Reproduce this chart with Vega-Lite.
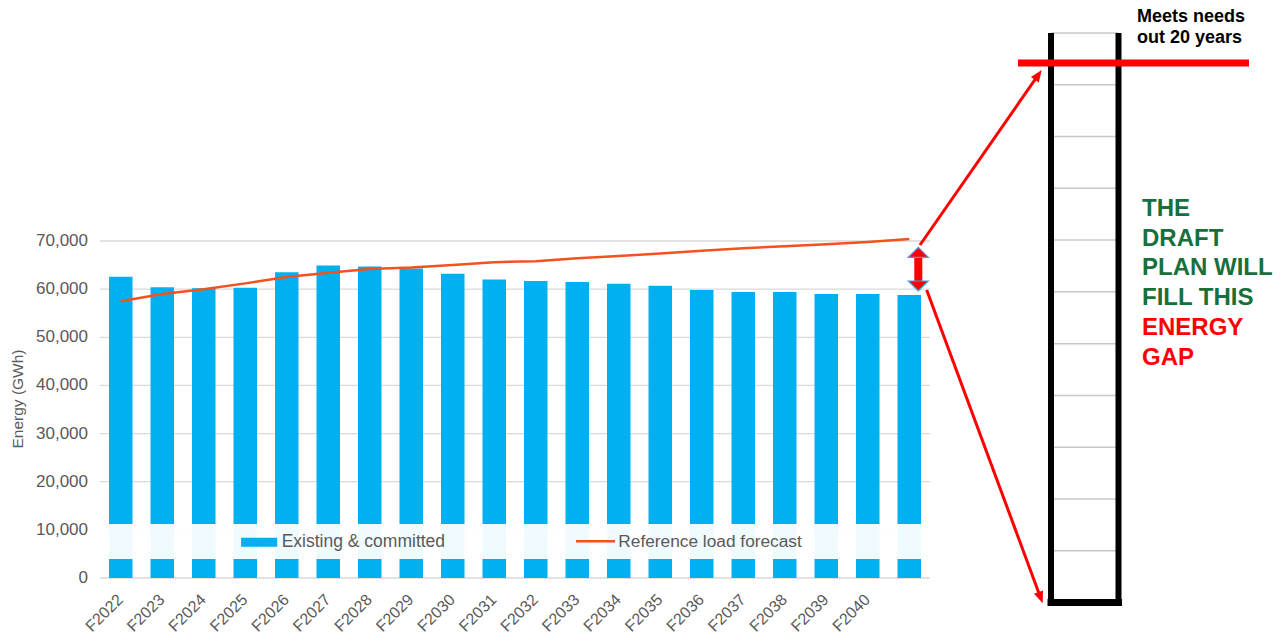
{
  "$schema": "https://vega.github.io/schema/vega-lite/v6.json",
  "autosize": {"type": "none"},
  "padding": {"left": 100, "top": 0, "right": 0, "bottom": 57},
  "width": 1180,
  "height": 578,
  "background": "white",
  "config": {"view": {"stroke": null}, "font": "Liberation Sans"},
  "data": {"values": [{}]},
  "datasets": {
    "energy": [
      {"year": "F2022", "i": 1, "existing": 62600, "forecast": 57500},
      {"year": "F2023", "i": 2, "existing": 60400, "forecast": 59000},
      {"year": "F2024", "i": 3, "existing": 60200, "forecast": 60000},
      {"year": "F2025", "i": 4, "existing": 60300, "forecast": 61200},
      {"year": "F2026", "i": 5, "existing": 63500, "forecast": 62500},
      {"year": "F2027", "i": 6, "existing": 64900, "forecast": 63400},
      {"year": "F2028", "i": 7, "existing": 64700, "forecast": 64200},
      {"year": "F2029", "i": 8, "existing": 64300, "forecast": 64500},
      {"year": "F2030", "i": 9, "existing": 63200, "forecast": 65000},
      {"year": "F2031", "i": 10, "existing": 62000, "forecast": 65600},
      {"year": "F2032", "i": 11, "existing": 61700, "forecast": 65800},
      {"year": "F2033", "i": 12, "existing": 61500, "forecast": 66400},
      {"year": "F2034", "i": 13, "existing": 61100, "forecast": 66900},
      {"year": "F2035", "i": 14, "existing": 60700, "forecast": 67400},
      {"year": "F2036", "i": 15, "existing": 59800, "forecast": 68000},
      {"year": "F2037", "i": 16, "existing": 59400, "forecast": 68500},
      {"year": "F2038", "i": 17, "existing": 59400, "forecast": 68900},
      {"year": "F2039", "i": 18, "existing": 59000, "forecast": 69300},
      {"year": "F2040", "i": 19, "existing": 59000, "forecast": 69800},
      {"year": "F2041", "i": 20, "existing": 58800, "forecast": 70400}
    ],
    "grid": [{"v": 0}, {"v": 10000}, {"v": 20000}, {"v": 30000}, {"v": 40000}, {"v": 50000}, {"v": 60000}, {"v": 70000}],
    "ladder": [{"level": 113207}, {"level": 102453}, {"level": 91699}, {"level": 80945}, {"level": 70191}, {"level": 59437}, {"level": 48683}, {"level": 37929}, {"level": 27175}, {"level": 16421}, {"level": 5667}],
    "sides": [{"side": 23.416}, {"side": 25.042}],
    "meets": [{"t": "Meets needs", "yy": 115556}, {"t": "out 20 years", "yy": 111068}],
    "plan": [{"t": "THE", "yy": 75195}, {"t": "DRAFT", "yy": 69026}, {"t": "PLAN WILL", "yy": 62939}, {"t": "FILL THIS", "yy": 56708}],
    "gap": [{"t": "ENERGY", "yy": 50476}, {"t": "GAP", "yy": 44244}]
  },
  "layer": [
    {
      "data": {"name": "grid"},
      "mark": {"type": "rule", "color": "#d9d9d9", "strokeWidth": 1.3},
      "encoding": {
        "y": {"field": "v", "type": "quantitative", "scale": {"domain": [0, 120060], "nice": false, "zero": false, "padding": 0}, "axis": null},
        "x": {"datum": 0.5, "type": "quantitative", "scale": {"domain": [0.5, 28.9337], "nice": false, "zero": false, "padding": 0}, "axis": null},
        "x2": {"datum": 20.5}
      }
    },
    {
      "data": {"name": "grid"},
      "mark": {"type": "text", "align": "right", "baseline": "middle", "dx": -12, "fontSize": 17, "color": "#595959"},
      "encoding": {
        "y": {"field": "v", "type": "quantitative", "axis": null},
        "x": {"datum": 0.5, "type": "quantitative", "axis": null},
        "text": {"field": "v", "type": "quantitative", "format": ","}
      }
    },
    {
      "mark": {"type": "text", "text": "Energy (GWh)", "angle": 270, "align": "center", "baseline": "middle", "fontSize": 15.5, "color": "#595959"},
      "encoding": {
        "x": {"datum": -1.464, "type": "quantitative", "axis": null},
        "y": {"datum": 37182, "type": "quantitative", "axis": null}
      }
    },
    {
      "data": {"name": "energy"},
      "mark": {"type": "bar", "color": "#00b0f0", "width": 23.5},
      "encoding": {
        "x": {"field": "i", "type": "quantitative", "scale": {"domain": [0.5, 28.9337], "nice": false, "zero": false, "padding": 0}, "axis": null},
        "y": {"field": "existing", "type": "quantitative", "scale": {"domain": [0, 120060], "nice": false, "zero": false, "padding": 0}, "axis": null}
      }
    },
    {
      "mark": {"type": "rect", "fill": "white", "opacity": 0.94},
      "encoding": {
        "x": {"datum": 0.5, "type": "quantitative", "axis": null},
        "x2": {"datum": 20.5},
        "y": {"datum": 3947, "type": "quantitative", "axis": null},
        "y2": {"datum": 11217}
      }
    },
    {
      "data": {"name": "energy"},
      "mark": {"type": "line", "color": "#f4511e", "strokeWidth": 2.5},
      "encoding": {
        "x": {"field": "i", "type": "quantitative", "axis": null},
        "y": {"field": "forecast", "type": "quantitative", "axis": null}
      }
    },
    {
      "data": {"name": "energy"},
      "transform": [{"filter": "datum.i <= 19"}],
      "mark": {"type": "text", "angle": 315, "align": "right", "baseline": "top", "dx": -4.2, "dy": -4.2, "fontSize": 16, "color": "#595959"},
      "encoding": {
        "x": {"field": "i", "type": "quantitative", "axis": null},
        "y": {"datum": -2804, "type": "quantitative", "axis": null},
        "text": {"field": "year"}
      }
    },
    {
      "mark": {"type": "rect", "color": "#00b0f0"},
      "encoding": {
        "x": {"datum": 3.90, "type": "quantitative", "axis": null},
        "x2": {"datum": 4.77},
        "y": {"datum": 6502, "type": "quantitative", "axis": null},
        "y2": {"datum": 8371}
      }
    },
    {
      "mark": {"type": "text", "text": "Existing & committed", "align": "left", "baseline": "middle", "fontSize": 17.5, "color": "#595959"},
      "encoding": {
        "x": {"datum": 4.878, "type": "quantitative", "axis": null},
        "y": {"datum": 7478, "type": "quantitative", "axis": null}
      }
    },
    {
      "mark": {"type": "rule", "color": "#f4511e", "strokeWidth": 2.5},
      "encoding": {
        "x": {"datum": 11.97, "type": "quantitative", "axis": null},
        "x2": {"datum": 12.91},
        "y": {"datum": 7623, "type": "quantitative", "axis": null}
      }
    },
    {
      "mark": {"type": "text", "text": "Reference load forecast", "align": "left", "baseline": "middle", "fontSize": 17.3, "color": "#595959"},
      "encoding": {
        "x": {"datum": 12.99, "type": "quantitative", "axis": null},
        "y": {"datum": 7478, "type": "quantitative", "axis": null}
      }
    },
    {
      "data": {"name": "ladder"},
      "mark": {"type": "rule", "color": "#c8c8c8", "strokeWidth": 1.5},
      "encoding": {
        "x": {"datum": 23.416, "type": "quantitative", "axis": null},
        "x2": {"datum": 25.042},
        "y": {"field": "level", "type": "quantitative", "axis": null}
      }
    },
    {
      "data": {"name": "sides"},
      "mark": {"type": "rule", "color": "black", "strokeWidth": 6},
      "encoding": {
        "x": {"field": "side", "type": "quantitative", "axis": null},
        "y": {"datum": -5087, "type": "quantitative", "axis": null},
        "y2": {"datum": 113207}
      }
    },
    {
      "mark": {"type": "rule", "color": "black", "strokeWidth": 7, "strokeCap": "square"},
      "encoding": {
        "x": {"datum": 23.416, "type": "quantitative", "axis": null},
        "x2": {"datum": 25.042},
        "y": {"datum": -5087, "type": "quantitative", "axis": null}
      }
    },
    {
      "mark": {"type": "rule", "color": "#ff0000", "strokeWidth": 7},
      "encoding": {
        "x": {"datum": 22.62, "type": "quantitative", "axis": null},
        "x2": {"datum": 28.187},
        "y": {"datum": 106976, "type": "quantitative", "axis": null}
      }
    },
    {
      "mark": {"type": "rule", "color": "#ff0000", "strokeWidth": 3},
      "encoding": {
        "x": {"datum": 20.259, "type": "quantitative", "axis": null},
        "y": {"datum": 69171, "type": "quantitative", "axis": null},
        "x2": {"datum": 23.109},
        "y2": {"datum": 104504}
      }
    },
    {
      "mark": {"type": "point", "shape": "M0,-1L0.8,1L-0.8,1Z", "size": 144, "angle": 34.8, "filled": true, "color": "#ff0000", "opacity": 1},
      "encoding": {
        "x": {"datum": 23.109, "type": "quantitative", "axis": null},
        "y": {"datum": 104504, "type": "quantitative", "axis": null}
      }
    },
    {
      "mark": {"type": "rule", "color": "#ff0000", "strokeWidth": 3},
      "encoding": {
        "x": {"datum": 20.420, "type": "quantitative", "axis": null},
        "y": {"datum": 59823, "type": "quantitative", "axis": null},
        "x2": {"datum": 23.165},
        "y2": {"datum": -4092}
      }
    },
    {
      "mark": {"type": "point", "shape": "M0,-1L0.8,1L-0.8,1Z", "size": 144, "angle": 159.7, "filled": true, "color": "#ff0000", "opacity": 1},
      "encoding": {
        "x": {"datum": 23.165, "type": "quantitative", "axis": null},
        "y": {"datum": -4092, "type": "quantitative", "axis": null}
      }
    },
    {
      "mark": {"type": "rule", "color": "#ff0000", "strokeWidth": 8},
      "encoding": {
        "x": {"datum": 20.218, "type": "quantitative", "axis": null},
        "y": {"datum": 60655, "type": "quantitative", "axis": null},
        "y2": {"datum": 67654}
      }
    },
    {
      "mark": {"type": "point", "shape": "M-1,0.5L0,-0.5L1,0.5Z", "size": 400, "filled": true, "fill": "#ff0000", "stroke": "#41a6d6", "strokeWidth": 1.2, "opacity": 1},
      "encoding": {
        "x": {"datum": 20.218, "type": "quantitative", "axis": null},
        "y": {"datum": 67654, "type": "quantitative", "axis": null}
      }
    },
    {
      "mark": {"type": "point", "shape": "M-1,-0.5L0,0.5L1,-0.5Z", "size": 400, "filled": true, "fill": "#ff0000", "stroke": "#41a6d6", "strokeWidth": 1.2, "opacity": 1},
      "encoding": {
        "x": {"datum": 20.218, "type": "quantitative", "axis": null},
        "y": {"datum": 60655, "type": "quantitative", "axis": null}
      }
    },
    {
      "data": {"name": "meets"},
      "mark": {"type": "text", "align": "left", "baseline": "alphabetic", "fontSize": 18, "fontWeight": "bold", "color": "black"},
      "encoding": {
        "x": {"datum": 25.488, "type": "quantitative", "axis": null},
        "y": {"field": "yy", "type": "quantitative", "axis": null},
        "text": {"field": "t"}
      }
    },
    {
      "data": {"name": "plan"},
      "mark": {"type": "text", "align": "left", "baseline": "alphabetic", "fontSize": 24, "fontWeight": "bold", "color": "#17703c"},
      "encoding": {
        "x": {"datum": 25.608, "type": "quantitative", "axis": null},
        "y": {"field": "yy", "type": "quantitative", "axis": null},
        "text": {"field": "t"}
      }
    },
    {
      "data": {"name": "gap"},
      "mark": {"type": "text", "align": "left", "baseline": "alphabetic", "fontSize": 24, "fontWeight": "bold", "color": "#ff0000"},
      "encoding": {
        "x": {"datum": 25.608, "type": "quantitative", "axis": null},
        "y": {"field": "yy", "type": "quantitative", "axis": null},
        "text": {"field": "t"}
      }
    }
  ]
}
